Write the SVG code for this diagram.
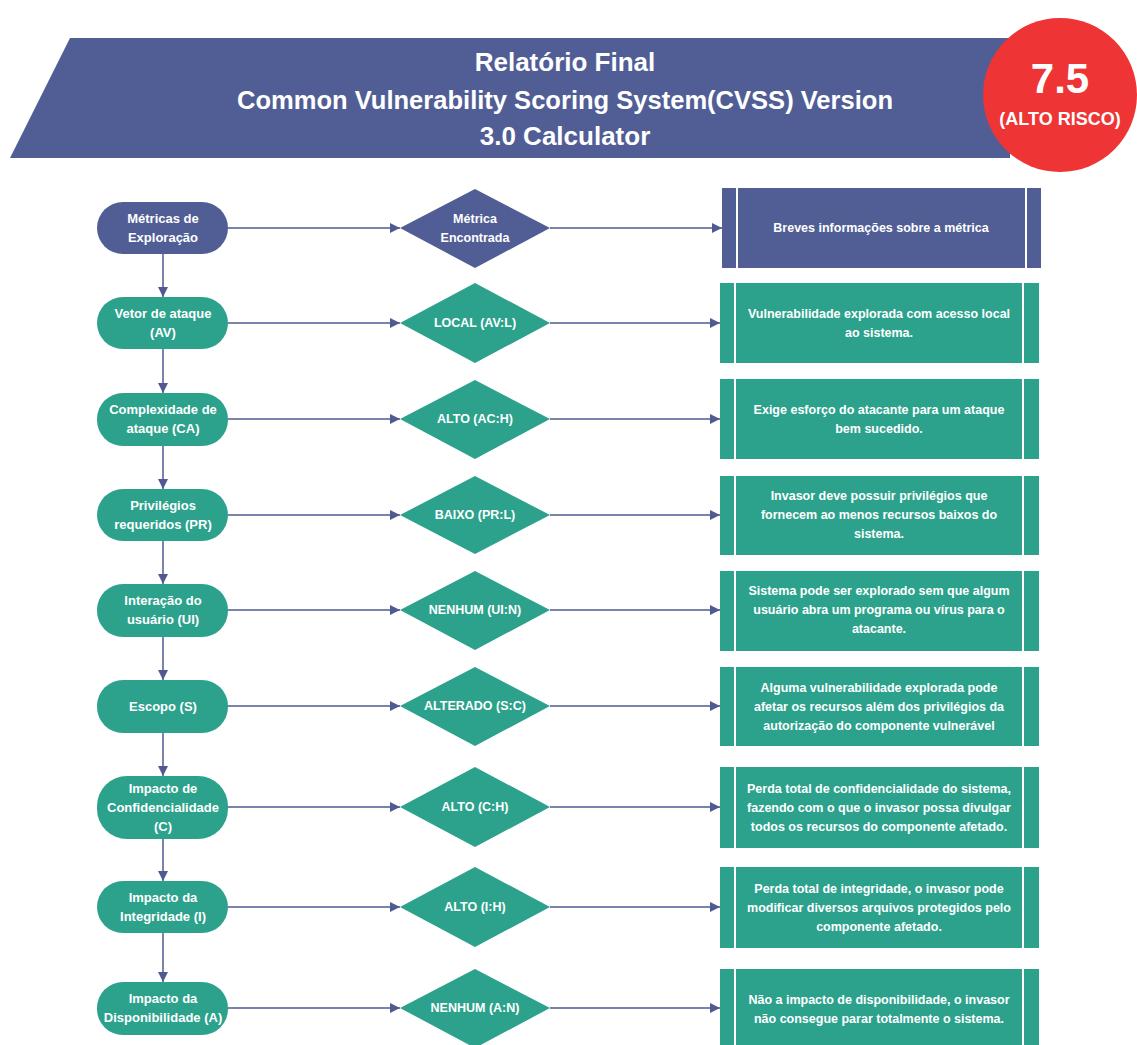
<svg xmlns="http://www.w3.org/2000/svg" width="1137" height="1045" viewBox="0 0 1137 1045">
<defs>
<marker id="ah" viewBox="0 0 10 10" refX="10" refY="5" markerWidth="10" markerHeight="10" markerUnits="userSpaceOnUse" orient="auto">
<path d="M0,0 L10,5 L0,10 Z" fill="#4F5A92"/>
</marker>
<style>
.t{font-family:"Liberation Sans",Arial,sans-serif;font-weight:bold;fill:#FFFFFF;text-anchor:middle}
.s{font-size:12.5px}
.d{font-size:12.5px}
.p{font-size:13px}
.navy{fill:#515E95}
.green{fill:#2CA28C}
.sep{stroke:#FFFFFF;stroke-width:2}
.c{stroke:#4F5A92;stroke-width:1.5;fill:none;marker-end:url(#ah)}
</style>
</defs>
<rect width="1137" height="1045" fill="#FFFFFF"/>

<g id="header">
<polygon points="70,38 1010,38 1010,158 10,158" class="navy"/>
<text class="t" x="565" y="71" font-size="26">Relatório Final</text>
<text class="t" x="565" y="109" font-size="26" textLength="656" lengthAdjust="spacingAndGlyphs">Common Vulnerability Scoring System(CVSS) Version</text>
<text class="t" x="565" y="145" font-size="26">3.0 Calculator</text>
</g>
<g id="score">
<circle cx="1060" cy="95" r="77" fill="#EE3434"/>
<text class="t" x="1060" y="93" font-size="42">7.5</text>
<text class="t" x="1060" y="125" font-size="18">(ALTO RISCO)</text>
</g>

<g id="connectors">
<line class="c" x1="163" y1="254" x2="163" y2="297"/>
<line class="c" x1="163" y1="349" x2="163" y2="393"/>
<line class="c" x1="163" y1="446" x2="163" y2="489"/>
<line class="c" x1="163" y1="541" x2="163" y2="584"/>
<line class="c" x1="163" y1="637" x2="163" y2="680"/>
<line class="c" x1="163" y1="733" x2="163" y2="776"/>
<line class="c" x1="163" y1="839" x2="163" y2="881"/>
<line class="c" x1="163" y1="933" x2="163" y2="982"/>
<line class="c" x1="228" y1="228" x2="400" y2="228"/>
<line class="c" x1="550" y1="228" x2="722" y2="228"/>
<line class="c" x1="228" y1="323" x2="400" y2="323"/>
<line class="c" x1="550" y1="323" x2="720" y2="323"/>
<line class="c" x1="228" y1="419" x2="400" y2="419"/>
<line class="c" x1="550" y1="419" x2="720" y2="419"/>
<line class="c" x1="228" y1="515" x2="400" y2="515"/>
<line class="c" x1="550" y1="515" x2="720" y2="515"/>
<line class="c" x1="228" y1="610" x2="400" y2="610"/>
<line class="c" x1="550" y1="610" x2="720" y2="610"/>
<line class="c" x1="228" y1="706" x2="400" y2="706"/>
<line class="c" x1="550" y1="706" x2="720" y2="706"/>
<line class="c" x1="228" y1="807" x2="400" y2="807"/>
<line class="c" x1="550" y1="807" x2="720" y2="807"/>
<line class="c" x1="228" y1="907" x2="400" y2="907"/>
<line class="c" x1="550" y1="907" x2="720" y2="907"/>
<line class="c" x1="228" y1="1008" x2="400" y2="1008"/>
<line class="c" x1="550" y1="1008" x2="720" y2="1008"/>
</g>

<!-- Row 0 -->
<g id="n0">
<rect x="97" y="202" width="131" height="52" rx="26" class="navy"/>
<text class="t p" x="163" y="223">Métricas de</text>
<text class="t p" x="163" y="242">Exploração</text>
</g>
<g id="d0">
<polygon points="475,189 550,228 475,268 400,228" class="navy"/>
<text class="t d" x="475" y="223">Métrica</text>
<text class="t d" x="475" y="242">Encontrada</text>
</g>
<g id="b0">
<rect x="722" y="188" width="319" height="80" class="navy"/>
<line class="sep" x1="737" y1="188" x2="737" y2="268"/>
<line class="sep" x1="1026" y1="188" x2="1026" y2="268"/>
<text class="t s" x="881" y="232">Breves informações sobre a métrica</text>
</g>

<!-- Row 1 -->
<g id="n1">
<rect x="97" y="297" width="131" height="52" rx="26" class="green"/>
<text class="t p" x="163" y="318">Vetor de ataque</text>
<text class="t p" x="163" y="337">(AV)</text>
</g>
<g id="d1">
<polygon points="475,283 550,323 475,363 400,323" class="green"/>
<text class="t d" x="475" y="327">LOCAL (AV:L)</text>
</g>
<g id="b1">
<rect x="720" y="283" width="319" height="80" class="green"/>
<line class="sep" x1="735" y1="283" x2="735" y2="363"/>
<line class="sep" x1="1023" y1="283" x2="1023" y2="363"/>
<text class="t s" x="879" y="318">Vulnerabilidade explorada com acesso local</text>
<text class="t s" x="879" y="337">ao sistema.</text>
</g>

<!-- Row 2 -->
<g id="n2">
<rect x="97" y="393" width="131" height="53" rx="26" class="green"/>
<text class="t p" x="163" y="414">Complexidade de</text>
<text class="t p" x="163" y="433">ataque (CA)</text>
</g>
<g id="d2">
<polygon points="475,380 550,419 475,459 400,419" class="green"/>
<text class="t d" x="475" y="423">ALTO (AC:H)</text>
</g>
<g id="b2">
<rect x="720" y="379" width="319" height="80" class="green"/>
<line class="sep" x1="735" y1="379" x2="735" y2="459"/>
<line class="sep" x1="1023" y1="379" x2="1023" y2="459"/>
<text class="t s" x="879" y="414">Exige esforço do atacante para um ataque</text>
<text class="t s" x="879" y="433">bem sucedido.</text>
</g>

<!-- Row 3 -->
<g id="n3">
<rect x="97" y="489" width="131" height="52" rx="26" class="green"/>
<text class="t p" x="163" y="510">Privilégios</text>
<text class="t p" x="163" y="529">requeridos (PR)</text>
</g>
<g id="d3">
<polygon points="475,476 550,515 475,554 400,515" class="green"/>
<text class="t d" x="475" y="519">BAIXO (PR:L)</text>
</g>
<g id="b3">
<rect x="720" y="476" width="319" height="79" class="green"/>
<line class="sep" x1="735" y1="476" x2="735" y2="555"/>
<line class="sep" x1="1023" y1="476" x2="1023" y2="555"/>
<text class="t s" x="879" y="500">Invasor deve possuir privilégios que</text>
<text class="t s" x="879" y="519">fornecem ao menos recursos baixos do</text>
<text class="t s" x="879" y="538">sistema.</text>
</g>

<!-- Row 4 -->
<g id="n4">
<rect x="97" y="584" width="131" height="53" rx="26" class="green"/>
<text class="t p" x="163" y="605">Interação do</text>
<text class="t p" x="163" y="624">usuário (UI)</text>
</g>
<g id="d4">
<polygon points="475,571 550,610 475,650 400,610" class="green"/>
<text class="t d" x="475" y="614">NENHUM (UI:N)</text>
</g>
<g id="b4">
<rect x="720" y="571" width="319" height="80" class="green"/>
<line class="sep" x1="735" y1="571" x2="735" y2="651"/>
<line class="sep" x1="1023" y1="571" x2="1023" y2="651"/>
<text class="t s" x="879" y="595">Sistema pode ser explorado sem que algum</text>
<text class="t s" x="879" y="614">usuário abra um programa ou vírus para o</text>
<text class="t s" x="879" y="633">atacante.</text>
</g>

<!-- Row 5 -->
<g id="n5">
<rect x="97" y="680" width="131" height="53" rx="26" class="green"/>
<text class="t p" x="163" y="711">Escopo (S)</text>
</g>
<g id="d5">
<polygon points="475,667 550,706 475,746 400,706" class="green"/>
<text class="t d" x="475" y="710">ALTERADO (S:C)</text>
</g>
<g id="b5">
<rect x="720" y="667" width="319" height="79" class="green"/>
<line class="sep" x1="735" y1="667" x2="735" y2="746"/>
<line class="sep" x1="1023" y1="667" x2="1023" y2="746"/>
<text class="t s" x="879" y="692">Alguma vulnerabilidade explorada pode</text>
<text class="t s" x="879" y="711">afetar os recursos além dos privilégios da</text>
<text class="t s" x="879" y="730">autorização do componente vulnerável</text>
</g>

<!-- Row 6 -->
<g id="n6">
<rect x="97" y="776" width="131" height="63" rx="30" class="green"/>
<text class="t p" x="163" y="793">Impacto de</text>
<text class="t p" x="163" y="812">Confidencialidade</text>
<text class="t p" x="163" y="831">(C)</text>
</g>
<g id="d6">
<polygon points="475,767 550,807 475,847 400,807" class="green"/>
<text class="t d" x="475" y="811">ALTO (C:H)</text>
</g>
<g id="b6">
<rect x="720" y="767" width="319" height="81" class="green"/>
<line class="sep" x1="735" y1="767" x2="735" y2="848"/>
<line class="sep" x1="1023" y1="767" x2="1023" y2="848"/>
<text class="t s" x="879" y="793">Perda total de confidencialidade do sistema,</text>
<text class="t s" x="879" y="812">fazendo com o que o invasor possa divulgar</text>
<text class="t s" x="879" y="831">todos os recursos do componente afetado.</text>
</g>

<!-- Row 7 -->
<g id="n7">
<rect x="97" y="881" width="131" height="52" rx="26" class="green"/>
<text class="t p" x="163" y="902">Impacto da</text>
<text class="t p" x="163" y="921">Integridade (I)</text>
</g>
<g id="d7">
<polygon points="475,867 550,907 475,947 400,907" class="green"/>
<text class="t d" x="475" y="911">ALTO (I:H)</text>
</g>
<g id="b7">
<rect x="720" y="867" width="319" height="81" class="green"/>
<line class="sep" x1="735" y1="867" x2="735" y2="948"/>
<line class="sep" x1="1023" y1="867" x2="1023" y2="948"/>
<text class="t s" x="879" y="893">Perda total de integridade, o invasor pode</text>
<text class="t s" x="879" y="912">modificar diversos arquivos protegidos pelo</text>
<text class="t s" x="879" y="931">componente afetado.</text>
</g>

<!-- Row 8 -->
<g id="n8">
<rect x="97" y="982" width="131" height="53" rx="26" class="green"/>
<text class="t p" x="163" y="1003">Impacto da</text>
<text class="t p" x="163" y="1022">Disponibilidade (A)</text>
</g>
<g id="d8">
<polygon points="475,969 550,1008 475,1048 400,1008" class="green"/>
<text class="t d" x="475" y="1012">NENHUM (A:N)</text>
</g>
<g id="b8">
<rect x="720" y="969" width="319" height="80" class="green"/>
<line class="sep" x1="735" y1="969" x2="735" y2="1049"/>
<line class="sep" x1="1023" y1="969" x2="1023" y2="1049"/>
<text class="t s" x="879" y="1004">Não a impacto de disponibilidade, o invasor</text>
<text class="t s" x="879" y="1023">não consegue parar totalmente o sistema.</text>
</g>
</svg>
